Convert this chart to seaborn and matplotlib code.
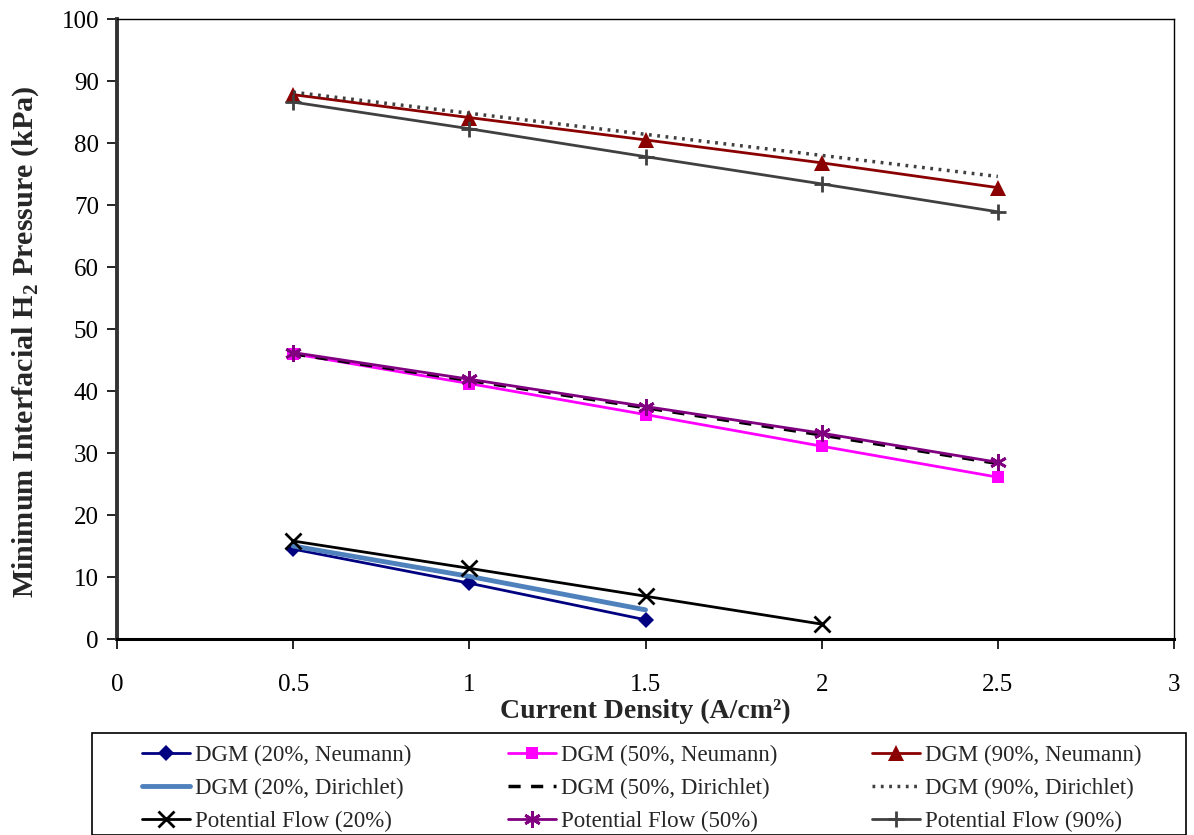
import matplotlib
matplotlib.use("Agg")
import matplotlib.pyplot as plt
import seaborn as sns
import pandas as pd
from matplotlib.lines import Line2D
from matplotlib.patches import Rectangle

sns.set_style("white")
plt.rcParams['font.family'] = ['Liberation Serif', 'DejaVu Serif']
plt.rcParams['mathtext.fontset'] = 'custom'
plt.rcParams['mathtext.rm'] = 'Liberation Serif'
plt.rcParams['mathtext.bf'] = 'Liberation Serif:bold'

# ---- data ----
current_5 = [0.5, 1.0, 1.5, 2.0, 2.5]
current_4 = [0.5, 1.0, 1.5, 2.0]
current_3 = [0.5, 1.0, 1.5]

dgm20_neumann = [14.5, 9.0, 3.1]
dgm20_dirichlet = [15.0, 10.1, 4.7]
pf20 = [15.8, 11.4, 6.9, 2.4]

dgm50_neumann = [46.0, 41.2, 36.2, 31.1, 26.1]
dgm50_dirichlet = [46.0, 41.7, 37.3, 32.9, 28.3]
pf50 = [46.2, 41.9, 37.5, 33.2, 28.5]

dgm90_neumann = [87.8, 84.1, 80.5, 76.8, 72.8]
dgm90_dirichlet = [88.2, 84.8, 81.4, 78.0, 74.6]
pf90 = [86.6, 82.3, 77.8, 73.4, 68.9]

labels = ["DGM (20%, Neumann)", "DGM (20%, Dirichlet)", "Potential Flow (20%)",
          "DGM (50%, Neumann)", "DGM (50%, Dirichlet)", "Potential Flow (50%)",
          "DGM (90%, Neumann)", "DGM (90%, Dirichlet)", "Potential Flow (90%)"]

x_ticks = [0, 0.5, 1, 1.5, 2, 2.5, 3]
x_tick_labels = ["0", "0.5", "1", "1.5", "2", "2.5", "3"]
y_ticks = list(range(0, 101, 10))

series = [
    (current_3, dgm20_neumann, dict(color="#000080", lw=2.0, ls="-", marker="D", ms=8, mew=0)),
    (current_3, dgm20_dirichlet, dict(color="#4F81BD", lw=3.5, ls="-", marker=None)),
    (current_4, pf20, dict(color="#000000", lw=2.0, ls="-", marker="x", ms=11, mew=2.0)),
    (current_5, dgm50_neumann, dict(color="#FF00FF", lw=2.0, ls="-", marker="s", ms=9, mew=0)),
    (current_5, dgm50_dirichlet, dict(color="#000000", lw=2.5, ls=(0, (3.5, 3)), marker=None)),
    (current_5, pf50, dict(color="#800080", lw=2.0, ls="-", marker=(6, 2, 0), ms=12, mew=2.0)),
    (current_5, dgm90_neumann, dict(color="#8B0000", lw=2.0, ls="-", marker="^", ms=11, mew=0)),
    (current_5, dgm90_dirichlet, dict(color="#404040", lw=2.5, ls=(0, (0.8, 1.6)), marker=None)),
    (current_5, pf90, dict(color="#404040", lw=2.0, ls="-", marker="+", ms=12, mew=2.0)),
]

fig = plt.figure(figsize=(11.94, 8.35), dpi=100)
W, H = 1194, 835
ax = fig.add_axes([117 / W, 1 - 639 / H, (1174 - 117) / W, (639 - 19) / H])

handles = []
for (xs, ys, st), lab in zip(series, labels):
    df = pd.DataFrame({"x": xs, "y": ys})
    kw = dict(color=st["color"], linewidth=st["lw"], linestyle=st["ls"])
    if st["marker"] is not None:
        kw.update(marker=st["marker"], markersize=st["ms"], markeredgewidth=st["mew"],
                  markeredgecolor=st["color"], markerfacecolor=st["color"])
    sns.lineplot(data=df, x="x", y="y", ax=ax, legend=False, **kw)
    h = Line2D([0], [0], color=st["color"], linewidth=st["lw"], linestyle=st["ls"],
               marker=st["marker"] if st["marker"] is not None else None,
               markersize=(st["ms"] if st["marker"] is not None else 0),
               markeredgewidth=(st["mew"] if st["marker"] is not None else 0),
               markerfacecolor=st["color"], markeredgecolor=st["color"])
    handles.append(h)

ax.set_xlim(0, 3)
ax.set_ylim(0, 100)
ax.set_xticks(x_ticks)
ax.set_xticklabels(x_tick_labels)
ax.set_yticks(y_ticks)
ax.tick_params(axis="both", labelsize=18, direction="out", length=7, width=1.2,
               colors="black", left=True, bottom=True)
ax.tick_params(axis="x", pad=18)
ax.tick_params(axis="y", pad=6)
for s in ["top", "right"]:
    ax.spines[s].set_linewidth(1.0)
    ax.spines[s].set_color("black")
ax.spines["left"].set_linewidth(2.8)
ax.spines["left"].set_color("#333333")
ax.spines["bottom"].set_linewidth(2.2)
ax.spines["bottom"].set_color("black")

ax.set_xlabel("Current Density (A/cm²)", fontsize=20, fontweight="bold", labelpad=2)
ax.set_ylabel(r"Minimum Interfacial H$_\mathbf{2}$ Pressure (kPa)", fontsize=21.7,
              fontweight="bold")
ax.yaxis.set_label_coords(-0.072, 0.479)

# legend frame
fig.patches.append(Rectangle((92 / W, 0), (1186 - 92) / W, (835 - 733) / H,
                             transform=fig.transFigure, fill=False,
                             edgecolor="black", linewidth=1.2))

col_x = [132, 498, 862]
for c in range(3):
    hs = handles[3 * c:3 * c + 3]
    ls = labels[3 * c:3 * c + 3]
    fig.legend(hs, ls, loc="upper left",
               bbox_to_anchor=(col_x[c] / W, 1 - 735 / H),
               frameon=False, fontsize=16.5, handlelength=2.1, handletextpad=0.18,
               labelspacing=0.5, borderpad=0.45, borderaxespad=0)

fig.savefig("out.png", dpi=100)
